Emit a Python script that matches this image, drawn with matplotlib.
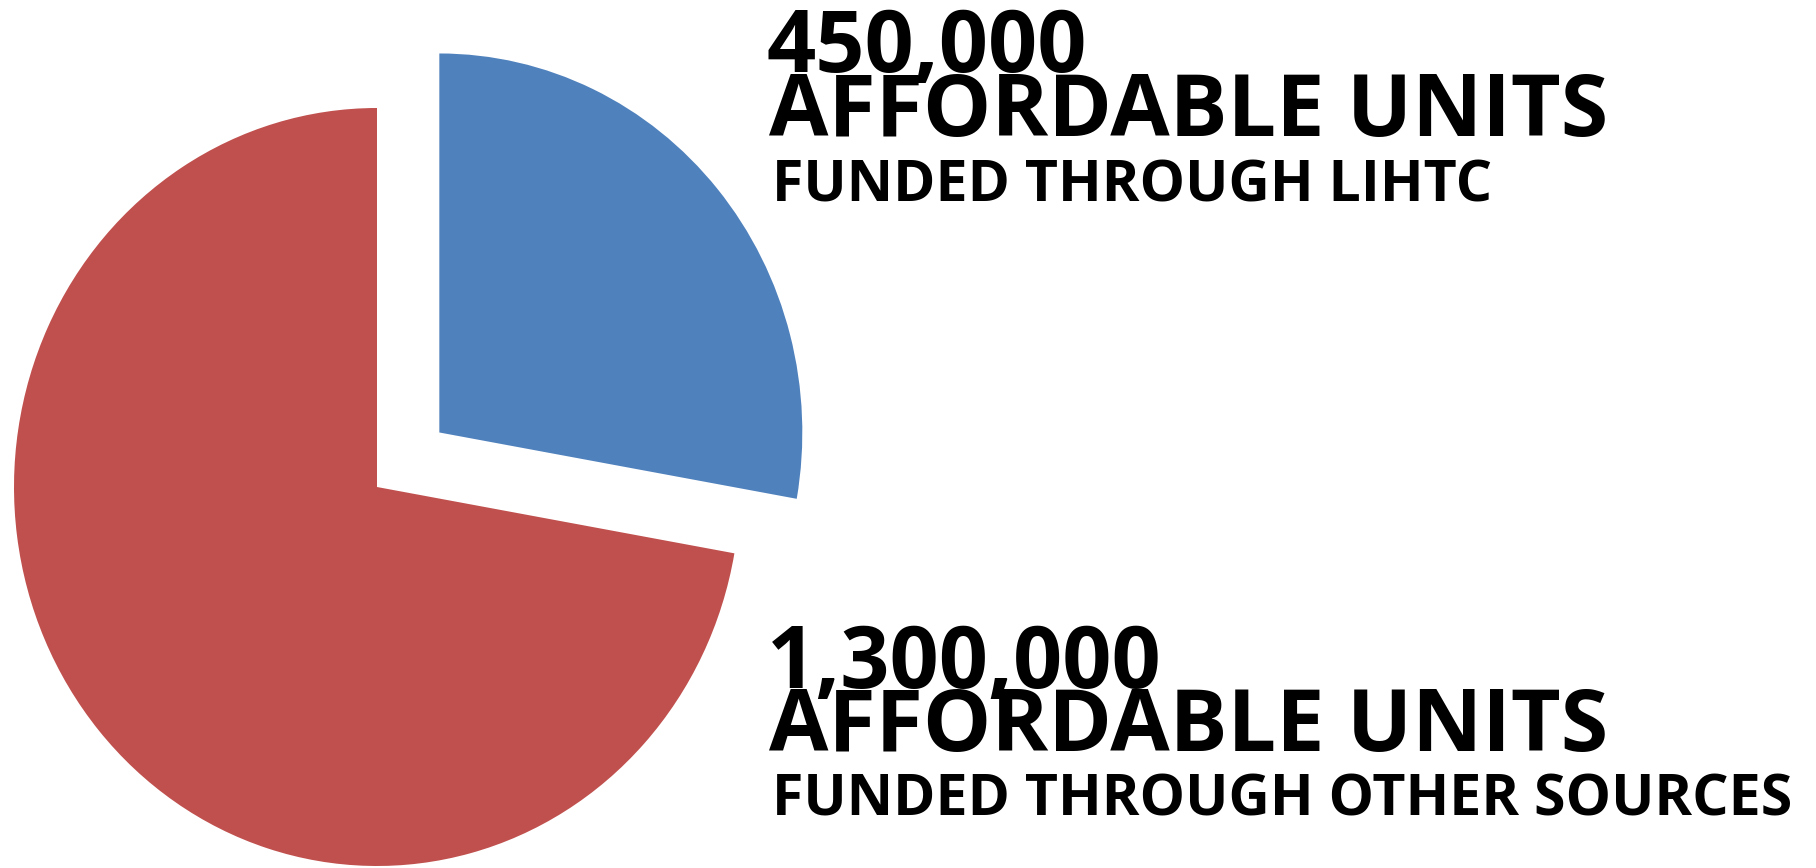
"""Pie chart: affordable units funded through LIHTC vs other sources."""

import matplotlib
matplotlib.use("Agg")
import matplotlib.pyplot as plt

# Data
categories = ["LIHTC", "Other sources"]
unit_labels = ["450,000", "1,300,000"]
# wedge shares as drawn in the reference (blue wedge spans ~100 degrees)
wedge_shares = [27.8, 72.2]
subtitles = ["FUNDED THROUGH LIHTC", "FUNDED THROUGH OTHER SOURCES"]
colors = ["#4F81BD", "#C0504D"]
explode = [0.224, 0.0]

W, H = 1816, 868
FONT = ["Open Sans", "DejaVu Sans"]

fig = plt.figure(figsize=(W / 100, H / 100), dpi=100)
fig.patch.set_facecolor("white")

ax = fig.add_axes([0, 0, 1, 1])
ax.pie(wedge_shares, colors=colors, explode=explode, startangle=90,
       counterclock=False, wedgeprops=dict(linewidth=0))
ax.set_aspect("auto")

# pixel scale of the unit circle (slightly wider than tall in the reference)
rx, ry = 363.0, 379.0
cx, cy = 377.0, 487.0  # pie centre in pixels, from top-left
ax.set_xlim(-cx / rx, (W - cx) / rx)
ax.set_ylim(-(H - cy) / ry, cy / ry)
ax.axis("off")


def put(text, x, y_base, size):
    """Place text with its baseline at pixel row y_base."""
    fig.text(x / W, 1 - y_base / H, text, ha="left", va="baseline",
             fontsize=size, fontweight="bold", family=FONT, color="black")


# label blocks: (number baseline, units baseline, subtitle baseline)
blocks = [(72, 136, 201), (688, 751, 816)]
for (b1, b2, b3), num, sub in zip(blocks, unit_labels, subtitles):
    put(num, 767, b1, 62)
    put("AFFORDABLE UNITS", 769, b2, 62)
    put(sub, 772, b3, 41.2)

fig.savefig("out.png", dpi=100, facecolor="white")
plt.close(fig)
